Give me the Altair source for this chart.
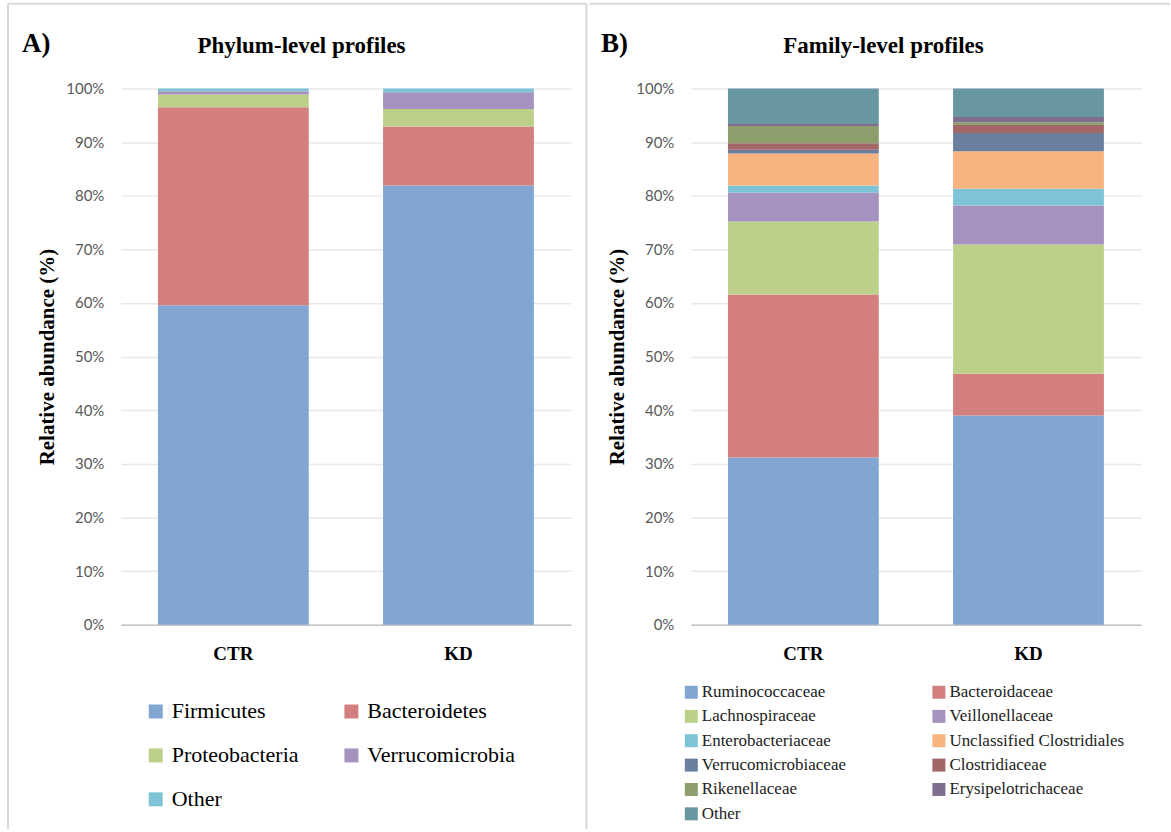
import altair as alt
import pandas as pd

# ---- data -----------------------------------------------------------------
groups = ["CTR", "KD"]

phyla = ["Firmicutes", "Bacteroidetes", "Proteobacteria", "Verrucomicrobia", "Other"]
phylum_ctr = [59.6, 36.9, 2.4, 0.6, 0.5]
phylum_kd = [81.9, 11.0, 3.3, 3.1, 0.7]
phylum_colors = ["#82A6D2", "#D47F7F", "#BCD08A", "#A692BF", "#7FC4D6"]

families = [
    "Ruminococcaceae", "Bacteroidaceae", "Lachnospiraceae", "Veillonellaceae",
    "Enterobacteriaceae", "Unclassified Clostridiales", "Verrucomicrobiaceae",
    "Clostridiaceae", "Rikenellaceae", "Erysipelotrichaceae", "Other",
]
family_ctr = [31.2, 30.4, 13.6, 5.4, 1.3, 6.0, 0.7, 1.2, 3.2, 0.4, 6.6]
family_kd = [39.0, 7.8, 24.1, 7.3, 3.1, 7.0, 3.4, 1.5, 0.5, 1.0, 5.3]
family_colors = [
    "#82A6D2", "#D47F7F", "#BCD08A", "#A692BF", "#7FC4D6", "#F8B37F",
    "#6A7F9E", "#A36767", "#8D9D6C", "#7F6E8E", "#6897A2",
]

pct_ticks = [0, 10, 20, 30, 40, 50, 60, 70, 80, 90, 100]

SERIF = "Liberation Serif"
SANS = "Lato"
W, H = 451, 537


def long_table(names, ctr, kd):
    rows = []
    for g, vals in zip(groups, [ctr, kd]):
        for i, (n, v) in enumerate(zip(names, vals)):
            rows.append({"group": g, "name": n, "value": v, "rank": i})
    return pd.DataFrame(rows)


def row_major(names, ncol=2):
    # legend grids fill column by column; reorder so entries read across rows
    return [names[i] for c in range(ncol) for i in range(c, len(names), ncol)]


def panel(df, names, colors, tag, heading, legend, frame):
    bars = alt.Chart(df).mark_bar().encode(
        x=alt.X(
            "group:N", sort=groups,
            scale=alt.Scale(paddingInner=0.33, paddingOuter=0.165),
            axis=alt.Axis(
                title=None, labelAngle=0, labelFont=SERIF, labelFontWeight="bold",
                labelFontSize=19, labelColor="#000000", labelPadding=20,
                ticks=False, domainColor="#C4C4C4", domainWidth=1.5, grid=False,
            ),
        ),
        y=alt.Y(
            "value:Q", stack="zero",
            scale=alt.Scale(domain=[0, 100], nice=False),
            axis=alt.Axis(
                values=pct_ticks, labelExpr="datum.value + '%'",
                title="Relative abundance (%)", titleFont=SERIF, titleFontWeight="bold",
                titleFontSize=21, titleColor="#000000", titlePadding=8,
                labelFont=SANS, labelFontSize=15, labelColor="#595959",
                labelPadding=17, ticks=False, domain=False,
                gridColor="#E8E8E8", gridWidth=1.5,
            ),
        ),
        color=alt.Color("name:N", scale=alt.Scale(domain=names, range=colors), legend=legend),
        order=alt.Order("rank:Q", sort="ascending"),
    )

    one = alt.Data(values=[{"k": 0}])
    x0, x1, y0, y1 = frame
    lines = [
        alt.Chart(one).mark_rule(color="#D9D9D9", strokeWidth=2).encode(
            x=alt.value(x0), x2=alt.value(x1), y=alt.value(y0)
        )
    ]
    if tag == "A)":
        lines += [
            alt.Chart(one).mark_rule(color="#D9D9D9", strokeWidth=2).encode(
                x=alt.value(x0), y=alt.value(y0), y2=alt.value(y1)
            ),
            alt.Chart(one).mark_rule(color="#D9D9D9", strokeWidth=2).encode(
                x=alt.value(x1), y=alt.value(y0), y2=alt.value(y1)
            ),
        ]

    tag_x = -99 if tag == "A)" else -90
    head_x = 181 if tag == "A)" else 193
    tag_text = alt.Chart(alt.Data(values=[{"t": tag}])).mark_text(
        font=SERIF, fontWeight="bold", fontSize=27, align="left", baseline="alphabetic",
        color="#000000",
    ).encode(x=alt.value(tag_x), y=alt.value(-37), text="t:N")
    head_text = alt.Chart(alt.Data(values=[{"t": heading}])).mark_text(
        font=SERIF, fontWeight="bold", fontSize=23, align="center", baseline="alphabetic",
        color="#000000",
    ).encode(x=alt.value(head_x), y=alt.value(-36), text="t:N")

    return alt.layer(bars, *lines, tag_text, head_text).properties(width=W, height=H)


phylum_legend = alt.Legend(
    title=None, orient="none", legendX=24, legendY=613, columns=2,
    values=row_major(phyla),
    columnPadding=41, rowPadding=22, symbolType="square", symbolSize=196,
    symbolStrokeWidth=0, labelFont=SERIF, labelFontSize=22, labelColor="#000000",
    labelOffset=5, labelLimit=400,
)
family_legend = alt.Legend(
    title=None, orient="none", legendX=-8, legendY=596, columns=2,
    values=row_major(families),
    columnPadding=84, rowPadding=6.4, symbolType="square", symbolSize=169,
    symbolStrokeWidth=0, labelFont=SERIF, labelFontSize=17, labelColor="#222222",
    labelOffset=2, labelLimit=400,
)

left = panel(
    long_table(phyla, phylum_ctr, phylum_kd), phyla, phylum_colors,
    "A)", "Phylum-level profiles", phylum_legend, (-113, 466.5, -85, 742),
)
right = panel(
    long_table(families, family_ctr, family_kd), families, family_colors,
    "B)", "Family-level profiles", family_legend, (-101.5, 480, -85, 742),
)

chart = (
    alt.hconcat(left, right, spacing=0, bounds="full")
    .resolve_scale(color="independent", x="independent", y="independent")
    .properties(padding={"left": 7, "top": 2, "right": 0, "bottom": 0}, background="#FFFFFF")
    .configure_view(stroke=None)
    .configure_legend(labelFont=SERIF)
)

chart.save("out.html", embed_options={"renderer": "svg", "actions": False})
